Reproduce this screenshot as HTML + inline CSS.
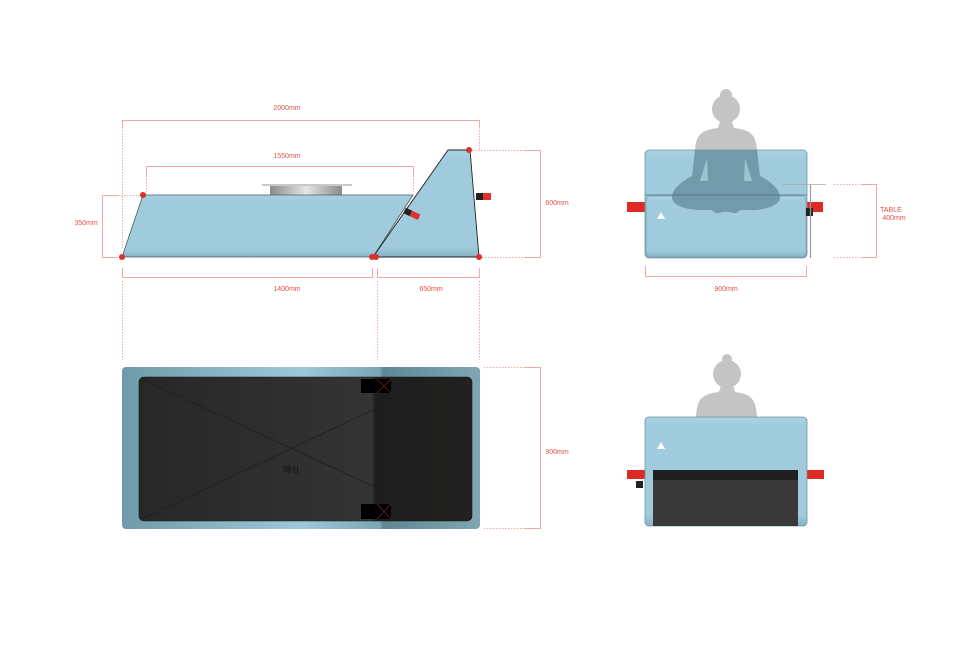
<!DOCTYPE html>
<html><head><meta charset="utf-8"><style>
html,body{margin:0;padding:0;background:#fff;}
svg{display:block;}
text{font-family:"Liberation Sans","Noto Sans CJK KR",sans-serif;font-size:7px;fill:#e0504a;text-anchor:middle;}
.d{stroke:#f2a8a5;stroke-width:1;fill:none;}
.dt{stroke:#f2a8a5;stroke-width:1;fill:none;stroke-dasharray:1.5 1.5;}
</style></head><body>
<svg width="980" height="653" viewBox="0 0 980 653" xmlns="http://www.w3.org/2000/svg">
<defs>
<linearGradient id="blue" x1="0" y1="0" x2="0" y2="1">
<stop offset="0" stop-color="#a9d3e3"/><stop offset="0.1" stop-color="#9fcbdc"/><stop offset="0.9" stop-color="#9fcbdc"/><stop offset="1" stop-color="#86b2c3"/>
</linearGradient>
<linearGradient id="disc" x1="0" y1="0" x2="1" y2="0">
<stop offset="0" stop-color="#8a8a8a"/><stop offset="0.5" stop-color="#e6e6e6"/><stop offset="1" stop-color="#8a8a8a"/>
</linearGradient>
<linearGradient id="frame" x1="0" y1="0" x2="1" y2="0">
<stop offset="0" stop-color="#6f9ba8"/><stop offset="0.5" stop-color="#9cc9da"/><stop offset="0.72" stop-color="#7aa6b5"/><stop offset="0.73" stop-color="#5f8794"/><stop offset="1" stop-color="#7ea7b3"/>
</linearGradient>
<linearGradient id="mesh" x1="0" y1="0" x2="1" y2="0">
<stop offset="0" stop-color="#272727"/><stop offset="0.7" stop-color="#353434"/><stop offset="0.71" stop-color="#1d1d1d"/><stop offset="1" stop-color="#222120"/>
</linearGradient>
<clipPath id="boxclip"><rect x="645" y="150" width="162" height="108" rx="4"/></clipPath>
<path id="yogi" d="M720 121 H732 L734 128 C752 130 756 136 757 150 L760 176 C770 181 781 190 780 198 C779 205 768 209 755 210 L740 210 C738 213 735 214 730 212 L722 212 C717 214 714 213 712 210 L698 210 C684 209 673 205 672 198 C671 190 682 181 692 176 L695 150 C696 136 700 130 718 128 Z"/>
</defs>

<!-- ===== Side view ===== -->
<text x="287" y="110">2000mm</text>
<path class="d" d="M122.5 127 V120.5 H479.5 V127"/>
<text x="287" y="158">1550mm</text>
<path class="d" d="M146.5 176 V166.5 H413.5 V176"/>
<text x="86" y="225">350mm</text>
<path class="d" d="M118 195.5 H102.5 V257.5 H118"/>
<path class="dt" d="M118 195.5 H140"/>
<text x="557" y="205">600mm</text>
<path class="dt" d="M472 150.5 H525 M482 257.5 H525"/>
<path class="d" d="M525 150.5 H540.5 V257.5 H525"/>
<path class="dt" d="M122.5 127 V250 M479.5 127 V150 M146.5 176 V193 M413.5 176 V193"/>

<rect x="270" y="186" width="72" height="9" fill="url(#disc)"/>
<rect x="262" y="184" width="90" height="2" fill="#c9c9c9"/>
<polygon points="122,257 143,195 413,195 373,257" fill="url(#blue)" stroke="#4a5a60" stroke-width="0.8"/>
<polygon points="373,257 448,150 470,150 479,257" fill="url(#blue)" stroke="#222" stroke-width="0.9"/>
<g transform="translate(410,213) rotate(25)">
<rect x="-6" y="-3" width="7" height="6" fill="#222"/><rect x="1" y="-3" width="9" height="6" fill="#e0322a"/>
</g>
<rect x="476" y="193" width="7" height="7" fill="#222"/><rect x="483" y="193" width="8" height="7" fill="#e0322a"/>
<g fill="#dc2f28">
<circle cx="143" cy="195" r="3"/><circle cx="122" cy="257" r="3"/><circle cx="372" cy="257" r="3"/><circle cx="376" cy="257" r="3"/><circle cx="469" cy="150" r="3"/><circle cx="479" cy="257" r="3"/>
</g>
<path class="d" d="M122.5 268 V277.5 H372.5 V268 M377.5 268 V277.5 H479.5 V268"/>
<text x="287" y="291">1400mm</text>
<text x="431" y="291">650mm</text>
<path class="dt" d="M122.5 281 V360 M377.5 281 V360 M479.5 281 V360"/>

<!-- ===== Top view ===== -->
<rect x="122" y="367" width="358" height="162" rx="4" fill="url(#frame)"/>
<rect x="139" y="377" width="333" height="144" rx="5" fill="url(#mesh)" stroke="#1a1a1a" stroke-width="0.6"/>
<path d="M142 379 L377 488 M142 519 L377 408" stroke="#1e1e1e" stroke-width="0.7"/>
<rect x="361" y="379" width="30" height="14" fill="#000"/>
<rect x="361" y="504" width="30" height="15" fill="#000"/>
<path d="M377 379 L391 393 M391 379 L377 393 M377 504 L391 519 M391 504 L377 519" stroke="#8a2a25" stroke-width="0.6"/>
<text x="291" y="473" style="fill:#111;font-size:9px">매쉬</text>
<path class="dt" d="M484 367.5 H525 M484 528.5 H525"/>
<path class="d" d="M525 367.5 H540.5 V528.5 H525"/>
<text x="557" y="454">900mm</text>

<!-- ===== Front view (top right) ===== -->
<rect x="627" y="202" width="20" height="10" fill="#dd2a22"/>
<rect x="805" y="202" width="18" height="10" fill="#dd2a22"/>
<g fill="#c4c4c4">
<circle cx="726" cy="95" r="6"/>
<circle cx="726" cy="109" r="14"/>
<use href="#yogi"/>
</g>
<rect x="645" y="150" width="162" height="108" rx="4" fill="url(#blue)" stroke="#6f95a3" stroke-width="0.8"/>
<path d="M645.5 195 H806.5" stroke="#5c8190" stroke-width="1"/>
<rect x="646" y="196" width="160" height="61" rx="4" fill="url(#blue)" stroke="#6f95a3" stroke-width="0.6"/>
<g clip-path="url(#boxclip)">
<use href="#yogi" fill="#729aaa"/>
<path d="M700 181 L707 158 L708 181 Z M752 181 L745 158 L744 181 Z" fill="#9cc3d2"/>
<path d="M672 195 H780" stroke="#55788a" stroke-width="1"/>
</g>
<path d="M657 219 L661 212 L665 219 Z" fill="#fff"/>
<rect x="806" y="208" width="7" height="8" fill="#222"/>
<path d="M810.5 185 V258" stroke="#9a9a9a" stroke-width="1.2"/>
<path d="M783 184.5 H826" stroke="#aaa" stroke-width="0.8"/>
<path class="dt" d="M834 184.5 H862 M834 257.5 H862"/>
<path class="d" d="M862 184.5 H876.5 V257.5 H862"/>
<text x="891" y="212">TABLE</text>
<text x="894" y="220">400mm</text>
<path class="d" d="M645.5 266 V276.5 H806.5 V266"/>
<text x="726" y="291">900mm</text>

<!-- ===== Back view (bottom right) ===== -->
<g fill="#c4c4c4">
<circle cx="727" cy="359" r="5"/>
<circle cx="727" cy="374" r="14"/>
<path d="M721 385 H733 L735 392 C752 394 756 400 757 417 H696 C697 400 701 394 719 392 Z"/>
</g>
<rect x="627" y="470" width="20" height="9" fill="#dd2a22"/>
<rect x="805" y="470" width="19" height="9" fill="#dd2a22"/>
<rect x="645" y="417" width="162" height="109" rx="4" fill="url(#blue)" stroke="#6f95a3" stroke-width="0.8"/>
<path d="M657 449 L661 442 L665 449 Z" fill="#fff"/>
<rect x="653" y="470" width="145" height="56" fill="#393939"/>
<rect x="653" y="470" width="145" height="10" fill="#1f1f1f"/>
<rect x="636" y="481" width="7" height="7" fill="#222"/>
</svg>
</body></html>
